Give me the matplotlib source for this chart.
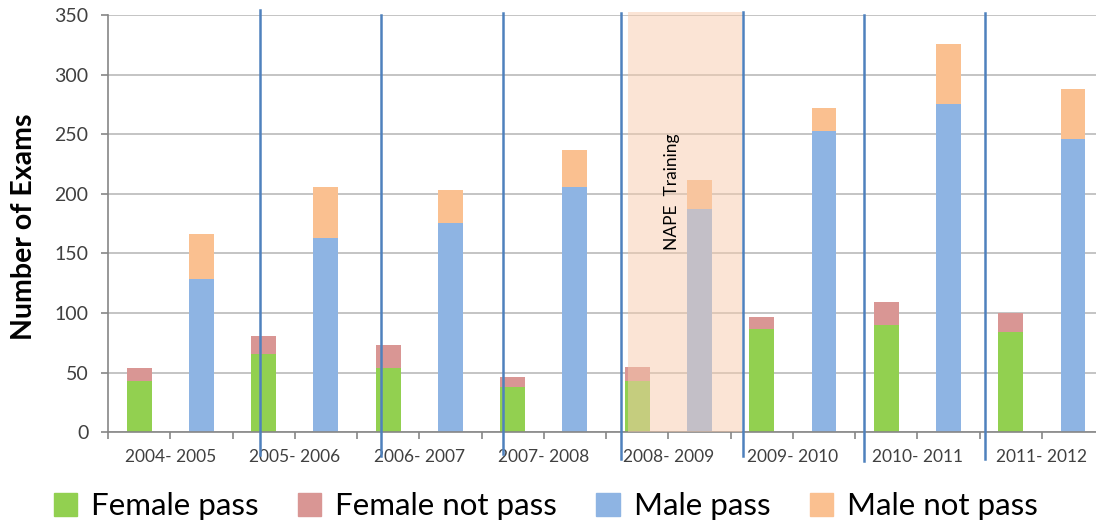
import numpy as np
import matplotlib
matplotlib.use('Agg')
import matplotlib.pyplot as plt
from matplotlib.patches import Patch, Rectangle

# Exam counts per school year
years = ['2004- 2005', '2005- 2006', '2006- 2007', '2007- 2008',
         '2008- 2009', '2009- 2010', '2010- 2011', '2011- 2012']
female_pass = [43, 66, 54, 38, 43, 87, 90, 84]
female_not_pass = [11, 15, 19, 8, 12, 10, 19, 16]
male_pass = [129, 163, 176, 206, 187, 253, 275, 246]
male_not_pass = [37, 43, 27, 31, 25, 19, 51, 42]

# Separator lines drawn between the years (x in slot units, y extent)
sep_x = [1.94, 3.885, 5.844, 7.74, 9.70, 11.643, 13.586]
sep_top = [354, 350, 352, 352, 353, 350, 352]
sep_bottom = [-19, -20, -18, -22, -20, -24, -22]

c_fp = '#92d050'
c_fn = '#d99694'
c_mp = '#8eb4e3'
c_mn = '#fac090'
txt = '#404040'

plt.rcParams['font.family'] = ['Lato', 'DejaVu Sans']

fig = plt.figure(figsize=(10.96, 5.22), dpi=100)
ax = fig.add_axes([108 / 1096, 1 - 432.3 / 522, 16 * 62.26 / 1096, 417.2 / 522])

n = len(years)
xf = np.arange(n) * 2
xm = xf + 1
w = 0.4

ax.bar(xf, female_pass, w, color=c_fp, zorder=2)
ax.bar(xf, female_not_pass, w, bottom=female_pass, color=c_fn, zorder=2)
ax.bar(xm, male_pass, w, color=c_mp, zorder=2)
ax.bar(xm, male_not_pass, w, bottom=male_pass, color=c_mn, zorder=2)

# shaded training period
ax.add_patch(Rectangle((7.852, 0), 9.683 - 7.852, 352.6, facecolor='#f8cbad',
                       alpha=0.5, edgecolor='none', zorder=3, clip_on=False))
ax.text(8.56, 202, 'NAPE  Training', rotation=90, ha='center', va='center',
        fontsize=12.5, color='black', zorder=5)

for x, t, b in zip(sep_x, sep_top, sep_bottom):
    ax.plot([x, x], [b, t], color='#4f81bd', lw=1.8, zorder=6, clip_on=False)

ax.set_xlim(-0.5, 2 * n - 0.5)
ax.set_ylim(0, 350)
ax.set_yticks(np.arange(0, 351, 50))
ax.yaxis.grid(True, color='#bfbfbf', lw=1.3, zorder=0)
ax.set_axisbelow(True)

bounds = np.arange(-0.5, 2 * n, 1.0)
labels = ['' if i % 2 == 0 else years[i // 2] for i in range(len(bounds))]
ax.set_xticks(bounds)
ax.set_xticklabels(labels)

for s in ['top', 'right']:
    ax.spines[s].set_visible(False)
for s in ['left', 'bottom']:
    ax.spines[s].set_color('#868686')
    ax.spines[s].set_linewidth(1.2)
ax.tick_params(axis='both', colors='#868686', labelcolor=txt, length=5, width=1.2)
ax.tick_params(axis='x', labelsize=12.5, pad=7)
ax.tick_params(axis='y', labelsize=14, pad=9)

fig.text(24 / 1096, 1 - 227 / 522, 'Number of Exams', rotation=90, ha='center',
         va='center', fontsize=20.5, fontweight='bold', color='black')

handles = [Patch(color=c_fp, label='Female pass'),
           Patch(color=c_fn, label='Female not pass'),
           Patch(color=c_mp, label='Male pass'),
           Patch(color=c_mn, label='Male not pass')]
fig.legend(handles=handles, loc='center', bbox_to_anchor=(0.498, 0.03), ncol=4,
           frameon=False, fontsize=22.5, handlelength=0.75, handleheight=0.75,
           handletextpad=0.45, columnspacing=1.25)

fig.savefig('out.png', dpi=100)
